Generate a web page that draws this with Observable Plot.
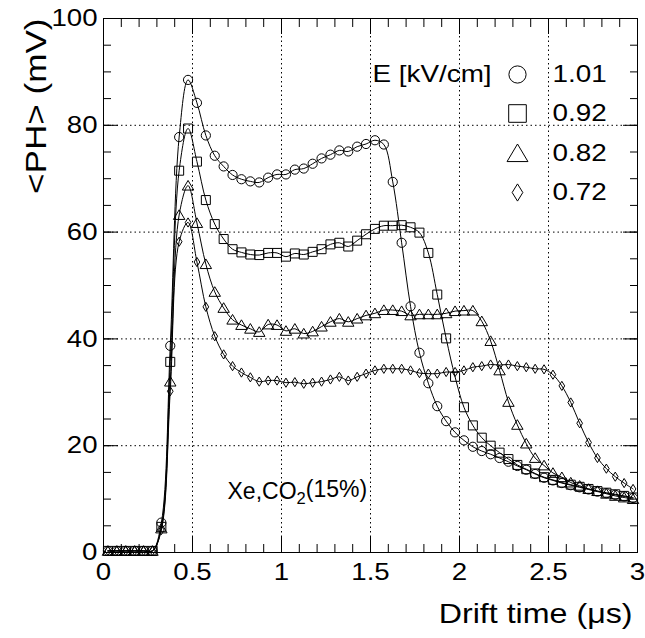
<!DOCTYPE html>
<html><head><meta charset="utf-8">
<script src="https://cdn.jsdelivr.net/npm/d3@7"></script>
<script src="https://cdn.jsdelivr.net/npm/@observablehq/plot@0.6"></script>
<style>html,body{margin:0;padding:0;background:#fff;} svg{display:block}</style>
</head><body><div id="chart"></div>
<script>
// Drift time samples (µs)
const times = [0.025,0.075,0.125,0.175,0.225,0.275,0.325,0.375,0.425,0.475,
  0.525,0.575,0.625,0.675,0.725,0.775,0.825,0.875,0.925,0.975,
  1.025,1.075,1.125,1.175,1.225,1.275,1.325,1.375,1.425,1.475,
  1.525,1.575,1.625,1.675,1.725,1.775,1.825,1.875,1.925,1.975,
  2.025,2.075,2.125,2.175,2.225,2.275,2.325,2.375,2.425,2.475,
  2.525,2.575,2.625,2.675,2.725,2.775,2.825,2.875,2.925,2.975];
// <PH> (mV) for each field
const ph101 = [0.3,0.3,0.3,0.3,0.3,0.3,5.6,38.7,77.8,88.5,
  84.2,78.1,74.3,72.3,70.7,69.9,69.5,69.3,70.2,70.8,
  70.8,71.7,71.9,72.8,73.8,74.5,75.3,75.1,76.0,76.5,
  77.2,76.4,69.4,58.0,46.1,37.4,31.7,27.4,24.6,22.5,
  21.0,19.8,19.0,18.4,17.7,17.0,16.2,15.5,14.7,14.0,
  13.5,13.0,12.6,12.2,11.8,11.4,11.1,10.8,10.5,10.2];
const ph092 = [0.3,0.3,0.3,0.3,0.3,0.3,4.8,35.7,71.5,79.4,
  73.2,66.0,61.5,58.7,56.8,56.2,55.8,55.7,56.1,56.1,
  55.4,56.0,55.8,56.3,56.8,57.7,58.0,57.3,58.4,59.6,
  60.6,61.2,61.2,61.3,60.9,59.9,56.1,48.3,40.1,32.9,
  27.2,23.8,21.5,20.0,18.7,17.5,16.4,15.6,14.8,14.1,
  13.6,13.1,12.7,12.3,11.9,11.5,11.2,10.9,10.6,10.3];
const ph082 = [0.3,0.3,0.3,0.3,0.3,0.3,4.5,32.0,63.2,68.7,
  61.7,54.0,48.8,45.8,43.6,42.6,41.9,41.3,42.7,42.6,
  41.5,41.9,41.0,41.4,42.3,43.2,43.8,43.2,43.8,44.4,
  44.8,45.4,45.4,45.2,44.4,44.6,44.6,44.6,44.8,45.2,
  45.3,45.3,43.3,39.6,34.1,28.2,23.9,20.4,17.7,16.3,
  14.9,14.1,13.1,12.5,11.9,11.5,11.0,10.6,10.3,10.0];
const ph072 = [0.3,0.3,0.3,0.3,0.3,0.3,4.2,30.2,58.2,61.8,
  54.4,46.0,40.5,37.1,34.9,33.7,32.8,32.0,32.2,32.2,
  31.8,31.9,31.6,31.8,32.0,32.4,32.9,32.2,32.9,33.5,
  34.1,34.4,34.4,34.4,34.1,33.6,33.5,33.5,33.8,33.8,
  34.1,34.7,34.9,35.2,35.1,35.2,34.9,34.7,34.4,34.3,
  33.3,31.2,28.1,24.2,20.6,17.7,15.7,14.2,13.0,11.9];
const fields = ["1.01","0.92","0.82","0.72"];
const legendTitle = "E [kV/cm]";
const xMajor = [0,0.5,1,1.5,2,2.5,3];
const yMajor = [0,20,40,60,80,100];
const xTitle = "Drift time (\u03BCs)";
const yTitle = "<PH> (mV)";
const gasLabel = "Xe,CO2(15%)";

const series = [ph101, ph092, ph082, ph072];
const rows = series.flatMap((vals, s) => vals.map((v, i) => ({s, t: times[i], v})));

const mk = (f) => ({draw(ctx, size){ const r = Math.sqrt(size/Math.PI); f(ctx, r); }});
const openSquare = mk((c,r)=>{c.moveTo(-r,-r);c.lineTo(r,-r);c.lineTo(r,r);c.lineTo(-r,r);c.closePath();});
const openTriangle = mk((c,r)=>{c.moveTo(0,-r);c.lineTo(1.1*r,0.85*r);c.lineTo(-1.1*r,0.85*r);c.closePath();});
const openDiamond = mk((c,r)=>{c.moveTo(0,-r);c.lineTo(0.62*r,0);c.lineTo(0,r);c.lineTo(-0.62*r,0);c.closePath();});
const symbols = ["circle", openSquare, openTriangle, openDiamond];
const dataR = [4.6, 4.5, 5.2, 4.6];
const legR = [8.6, 8.8, 9.5, 8.6];
const legRowY = [56, 95, 135, 174];

const xMinor = d3.range(0, 3.0001, 0.1).map(d => +d.toFixed(1));
const yMinor = d3.range(0, 100.001, 5);
const blank = () => "";
const FS = 24;

const marks = [
  Plot.gridX(xMajor.slice(1,-1), {stroke:"black", strokeOpacity:1, strokeDasharray:"1.5,3"}),
  Plot.gridY(yMajor.slice(1,-1), {stroke:"black", strokeOpacity:1, strokeDasharray:"1.5,3"}),
  Plot.axisX(xMinor, {anchor:"bottom", tickSize:-8, tickFormat:blank, label:null}),
  Plot.axisX(xMajor, {anchor:"bottom", tickSize:-15, tickPadding:25, tickFormat:d=>String(d), fontSize:FS, label:null}),
  Plot.axisX(xMinor, {anchor:"top", tickSize:-8, tickFormat:blank, label:null}),
  Plot.axisX(xMajor, {anchor:"top", tickSize:-15, tickFormat:blank, label:null}),
  Plot.axisY(yMinor, {anchor:"left", tickSize:-8, tickFormat:blank, label:null}),
  Plot.axisY(yMajor, {anchor:"left", tickSize:-15, tickPadding:21, tickFormat:d=>String(d), fontSize:FS, label:null}),
  Plot.axisY(yMinor, {anchor:"right", tickSize:-8, tickFormat:blank, label:null}),
  Plot.axisY(yMajor, {anchor:"right", tickSize:-15, tickFormat:blank, label:null}),
  Plot.frame({stroke:"black", strokeWidth:1}),
  ...series.map((_, s) => Plot.line(rows.filter(d=>d.s===s), {x:"t", y:"v", stroke:"black", strokeWidth:1, curve:"catmull-rom"})),
  ...series.map((_, s) => Plot.dot(rows.filter(d=>d.s===s), {x:"t", y:"v", symbol:symbols[s], r:dataR[s], fill:"none", stroke:"black", strokeWidth:1})),
  Plot.text([legendTitle], {frameAnchor:"top-left", lineAnchor:"middle", dx:269, dy:56, textAnchor:"start", fontSize:FS, fill:"black"}),
  ...fields.map((f, s) => Plot.dot([f], {frameAnchor:"top-left", dx:414, dy:legRowY[s], symbol:symbols[s], r:legR[s], fill:"none", stroke:"black", strokeWidth:1})),
  ...fields.map((f, s) => Plot.text([f], {frameAnchor:"top-left", lineAnchor:"middle", dx:449, dy:legRowY[s], textAnchor:"start", fontSize:FS, fill:"black"})),
  Plot.text([gasLabel], {frameAnchor:"bottom-left", lineAnchor:"middle", dx:124, dy:-61, textAnchor:"start", fontSize:23, fill:"black"}),
  Plot.text([xTitle], {frameAnchor:"bottom-right", lineAnchor:"middle", dx:-5, dy:62, textAnchor:"end", fontSize:28, fill:"black"}),
  Plot.text([yTitle], {frameAnchor:"top-left", lineAnchor:"middle", rotate:-90, dx:-67, textAnchor:"end", fontSize:30, fill:"black"})
];

const chart = Plot.plot({
  width:645, height:638,
  marginLeft:103, marginRight:8, marginTop:18, marginBottom:86,
  x:{domain:[0,3]}, y:{domain:[0,100]},
  style:{fontFamily:"'Liberation Sans', Arial, Helvetica, sans-serif", background:"white", color:"black", overflow:"visible"},
  marks
});
document.getElementById("chart").appendChild(chart);
// widen glyphs to match the reference's lettering (by text content)
const widen = new Map();
xMajor.forEach(d => widen.set(String(d), 1.15));
yMajor.forEach(d => widen.set(String(d), 1.15));
fields.forEach(f => widen.set(f, 1.16));
widen.set(legendTitle, 1.16);
widen.set(xTitle, 1.15);
widen.set(yTitle, 1.17);
d3.select(chart).selectAll("text").each(function(){
  const s = this.textContent;
  if (widen.has(s)) {
    const L = this.getComputedTextLength();
    if (L > 0) { this.setAttribute("textLength", (L*widen.get(s)).toFixed(1)); this.setAttribute("lengthAdjust", "spacingAndGlyphs"); }
  }
});
// subscript in gas label
d3.select(chart).selectAll("text").filter(function(){ return this.textContent === gasLabel; }).each(function(){
  const t = d3.select(this); t.text("");
  t.append("tspan").text("Xe,CO");
  t.append("tspan").attr("dy","0.3em").attr("font-size","0.72em").text("2");
  t.append("tspan").attr("dy","-0.3em").text("(15%)");
});
</script></body></html>
